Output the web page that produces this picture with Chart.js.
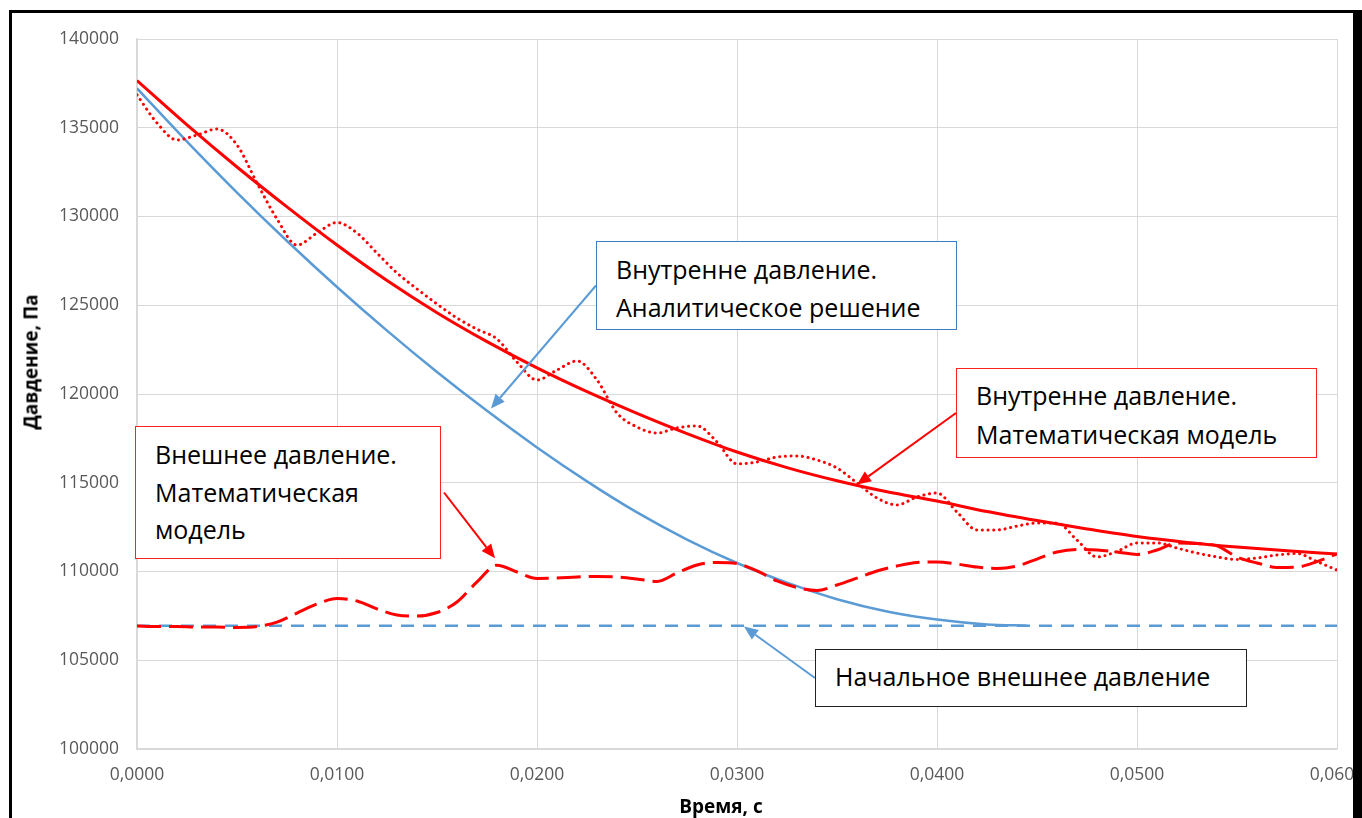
<!DOCTYPE html>
<html lang="ru">
<head>
<meta charset="utf-8">
<title>Давление во времени</title>
<script src="https://cdn.jsdelivr.net/npm/chart.js@4.4.1/dist/chart.umd.min.js"></script>
<style>
  html, body { margin: 0; padding: 0; background: #fff; overflow: hidden; }
  #wrap { position: relative; width: 1362px; height: 818px; }
  #plot { position: absolute; left: 0; top: 0; }
  .frame { position: absolute; left: 9px; top: 10px; width: 1353px; height: 900px;
           box-sizing: border-box; border: 3px solid #000; border-right-width: 9px;
           pointer-events: none; z-index: 5; }
  .note { position: absolute; box-sizing: border-box; background: #fff;
          font-family: "Open Sans", sans-serif; font-size: 25px; line-height: 37.5px;
          color: #000; padding-left: 19px; white-space: nowrap; z-index: 3; }
  .axis-title { position: absolute; font-family: "Open Sans", sans-serif; font-weight: 700;
                font-size: 19px; line-height: 19px; color: #000; white-space: nowrap; z-index: 2; }
</style>
</head>
<body>
<div id="wrap">
  <canvas id="plot" width="1362" height="818"></canvas>

  <div class="note" id="noteAnalytic"
       style="left:596px;top:241px;width:361px;height:89px;padding-top:9px;border:1.5px solid #3C7DC4;">
    Внутренне давление.<br>Аналитическое решение</div>
  <div class="note" id="noteInner"
       style="left:956px;top:368px;width:361px;height:90px;padding-top:7px;line-height:38.5px;border:1.5px solid #FF2020;">
    Внутренне давление.<br>Математическая модель</div>
  <div class="note" id="noteOuter"
       style="left:135px;top:426px;width:306px;height:133px;padding-top:9px;border:1.5px solid #FF2020;">
    Внешнее давление.<br>Математическая<br>модель</div>
  <div class="note" id="noteInitial"
       style="left:815px;top:649px;width:432px;height:58px;padding-top:7.5px;border:1.5px solid #222;">
    Начальное внешнее давление</div>

  <div class="axis-title" id="xTitle" style="left:721px;top:797px;transform:translateX(-50%);">Время, с</div>
  <div class="axis-title" id="yTitle" style="left:31px;top:362px;transform:translate(-50%,-50%) rotate(-90deg);">Давдение, Па</div>

  <div class="frame"></div>
</div>

<script>
// ---- time grids, s ----
const timeFine = [
  0.000, 0.001, 0.002, 0.003, 0.004, 0.005, 0.006, 0.007, 0.008, 0.009,
  0.010, 0.011, 0.012, 0.013, 0.014, 0.015, 0.016, 0.017, 0.018, 0.019,
  0.020, 0.021, 0.022, 0.023, 0.024, 0.025, 0.026, 0.027, 0.028, 0.029,
  0.030, 0.031, 0.032, 0.033, 0.034, 0.035, 0.036, 0.037, 0.038, 0.039,
  0.040, 0.041, 0.042, 0.043, 0.044, 0.045, 0.046, 0.047, 0.048, 0.049,
  0.050, 0.051, 0.052, 0.053, 0.054, 0.055, 0.056, 0.057, 0.058, 0.059,
  0.060
];
const timeCoarse = [
  0.0000, 0.0025, 0.0050, 0.0075, 0.0100, 0.0125, 0.0150, 0.0175, 0.0200,
  0.0225, 0.0250, 0.0275, 0.0300, 0.0325, 0.0350, 0.0375, 0.0400, 0.0425,
  0.0450, 0.0475, 0.0500, 0.0525, 0.0550, 0.0575, 0.0600
];
const timeAnalytic = [
  0.0000, 0.0025, 0.0050, 0.0075, 0.0100, 0.0125, 0.0150, 0.0175, 0.0200,
  0.0225, 0.0250, 0.0275, 0.0300, 0.0325, 0.0350, 0.0375, 0.0400, 0.0425,
  0.0445
];
const timeInitial = [0.000, 0.060];

// ---- pressures, Pa ----
// internal pressure, analytical solution
const innerAnalytic = [
  137220, 134220, 131350, 128620, 126030, 123570, 121240, 119050, 116990,
  115080, 113330, 111800, 110480, 109370, 108440, 107750, 107290, 107020,
  106950
];
// internal pressure, model (trend)
const innerModel = [
  137660, 135160, 132790, 130540, 128390, 126390, 124580, 122950, 121470,
  120130, 118910, 117770, 116730, 115850, 115110, 114490, 113970, 113380,
  112870, 112400, 111970, 111640, 111380, 111170, 110990
];
// internal pressure, model (with oscillations)
const innerModelWave = [
  136850, 135270, 134310, 134590, 134930, 134030, 131890, 129860, 128390, 129070,
  129660, 129070, 127940, 126820, 125920, 125070, 124280, 123650, 123100, 121800,
  120790, 121350, 121860, 120790, 118930, 118140, 117800, 118090, 118200, 117300,
  116060, 116170, 116450, 116510, 116280, 115830, 114990, 114140, 113750, 114200,
  114420, 113350, 112340, 112340, 112560, 112730, 112730, 111770, 110820, 111130,
  111610, 111610, 111320, 111040, 110820, 110680, 110760, 110930, 111010, 110560,
  110080
];
// external pressure, model
const outerModel = [
  106930, 106900, 106900, 106870, 106870, 106850, 106900, 107150, 107660, 108170,
  108480, 108340, 107890, 107550, 107490, 107690, 108280, 109410, 110350, 109970,
  109610, 109630, 109690, 109720, 109690, 109580, 109440, 109920, 110370, 110510,
  110450, 110030, 109470, 109100, 108930, 109240, 109630, 110030, 110310, 110510,
  110540, 110420, 110250, 110170, 110310, 110700, 111100, 111240, 111210, 111100,
  110960, 111210, 111610, 111580, 111440, 110820, 110480, 110230, 110250, 110560,
  110990
];
// initial external pressure
const outerInitial = [106950, 106950];

// ---- axis range ----
const yMin = 100000, yMax = 140000, yStep = 5000;
const xMin = 0, xMax = 0.06, xStep = 0.01;

const RED = '#FF0000';
const BLUE = '#5B9BD5';

const pts = (ts, vs) => ts.map((t, i) => ({ x: t, y: vs[i] }));

// callout arrows: start at the middle of a note's side, end on a curve point
const callouts = [
  { note: 'noteAnalytic', side: 'left',  tip: [0.0177, 119190], color: BLUE },
  { note: 'noteInner',    side: 'left',  tip: [0.0360, 114900], color: RED  },
  { note: 'noteOuter',    side: 'right', tip: [0.0179, 110740], color: RED  },
  { note: 'noteInitial',  side: 'left',  tip: [0.03035, 106900], color: BLUE }
];

const calloutPlugin = {
  id: 'callouts',
  afterDatasetsDraw(chart) {
    const { ctx, scales } = chart;
    const wrap = document.getElementById('wrap').getBoundingClientRect();
    ctx.save();
    callouts.forEach(c => {
      const r = document.getElementById(c.note).getBoundingClientRect();
      const sx = (c.side === 'left' ? r.left : r.right + 3) - wrap.left;
      const sy = r.top + r.height / 2 - wrap.top;
      const ex = scales.x.getPixelForValue(c.tip[0]);
      const ey = scales.y.getPixelForValue(c.tip[1]);
      const ang = Math.atan2(ey - sy, ex - sx);
      const head = 14, half = 6;
      const bx = ex - head * Math.cos(ang), by = ey - head * Math.sin(ang);
      ctx.strokeStyle = c.color;
      ctx.fillStyle = c.color;
      ctx.lineWidth = 2;
      ctx.beginPath();
      ctx.moveTo(sx, sy);
      ctx.lineTo(bx, by);
      ctx.stroke();
      ctx.beginPath();
      ctx.moveTo(ex, ey);
      ctx.lineTo(bx + half * Math.sin(ang), by - half * Math.cos(ang));
      ctx.lineTo(bx - half * Math.sin(ang), by + half * Math.cos(ang));
      ctx.closePath();
      ctx.fill();
    });
    ctx.restore();
  }
};

const tickFont = { family: 'Open Sans', size: 17.5 };

new Chart(document.getElementById('plot'), {
  type: 'line',
  data: {
    datasets: [
      { label: 'Внешнее давление. Математическая модель', data: pts(timeFine, outerModel),
        borderColor: RED, borderWidth: 3, borderDash: [24, 8], cubicInterpolationMode: 'monotone', order: 0 },
      { label: 'Внутренне давление. Математическая модель', data: pts(timeCoarse, innerModel),
        borderColor: RED, borderWidth: 3, cubicInterpolationMode: 'monotone', order: 1 },
      { label: 'Внутренне давление. Математическая модель (колебания)', data: pts(timeFine, innerModelWave),
        borderColor: RED, borderWidth: 3, borderDash: [0.1, 5.6], borderCapStyle: 'round',
        cubicInterpolationMode: 'monotone', order: 2 },
      { label: 'Внутренне давление. Аналитическое решение', data: pts(timeAnalytic, innerAnalytic),
        borderColor: BLUE, borderWidth: 2.5, cubicInterpolationMode: 'monotone', order: 3 },
      { label: 'Начальное внешнее давление', data: pts(timeInitial, outerInitial),
        borderColor: BLUE, borderWidth: 2.5, borderDash: [13, 9], order: 4 }
    ]
  },
  options: {
    responsive: false,
    animation: false,
    devicePixelRatio: 1,
    events: [],
    layout: { autoPadding: false, padding: { left: 0, right: 25, top: 39, bottom: 9 } },
    elements: { point: { radius: 0 }, line: { fill: false } },
    plugins: { legend: { display: false }, tooltip: { enabled: false } },
    scales: {
      x: {
        type: 'linear', min: xMin, max: xMax,
        afterFit(scale) { scale.height = 60; scale.paddingLeft = 0; scale.paddingRight = 0; },
        ticks: { stepSize: xStep, padding: 16, color: '#595959', font: tickFont,
                 maxRotation: 0, autoSkip: false,
                 callback: v => v.toFixed(4).replace('.', ',') },
        grid: { color: '#D9D9D9', lineWidth: 1, drawTicks: false },
        border: { color: '#D9D9D9', width: 1.5 }
      },
      y: {
        type: 'linear', min: yMin, max: yMax,
        afterFit(scale) { scale.width = 137; scale.paddingTop = 0; scale.paddingBottom = 0; },
        ticks: { stepSize: yStep, padding: 18, color: '#595959', font: tickFont,
                 callback: v => String(v) },
        grid: { color: '#D9D9D9', lineWidth: 1, drawTicks: false },
        border: { color: '#D9D9D9', width: 1.5 }
      }
    }
  },
  plugins: [calloutPlugin]
});
</script>
</body>
</html>
